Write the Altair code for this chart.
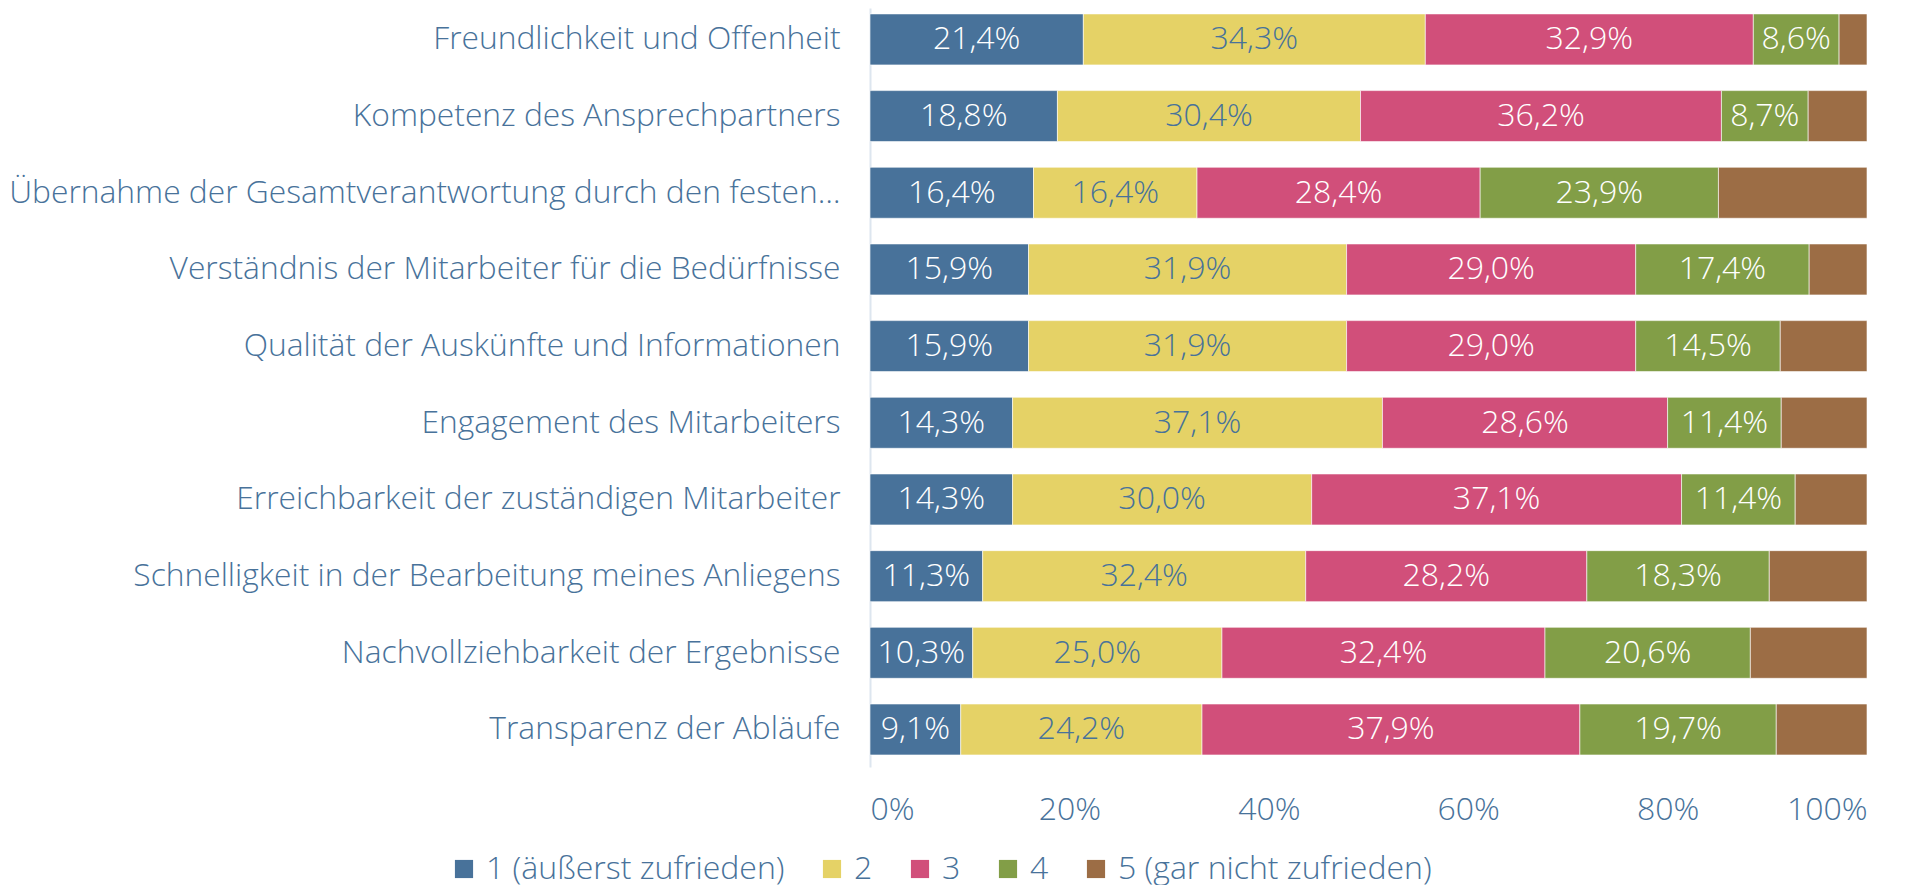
import altair as alt
import pandas as pd

items = [
    "Freundlichkeit und Offenheit",
    "Kompetenz des Ansprechpartners",
    "Übernahme der Gesamtverantwortung durch den festen…",
    "Verständnis der Mitarbeiter für die Bedürfnisse",
    "Qualität der Auskünfte und Informationen",
    "Engagement des Mitarbeiters",
    "Erreichbarkeit der zuständigen Mitarbeiter",
    "Schnelligkeit in der Bearbeitung meines Anliegens",
    "Nachvollziehbarkeit der Ergebnisse",
    "Transparenz der Abläufe",
]
categories = ["1 (äußerst zufrieden)", "2", "3", "4", "5 (gar nicht zufrieden)"]
v1 = [21.4, 18.8, 16.4, 15.9, 15.9, 14.3, 14.3, 11.3, 10.3, 9.1]
v2 = [34.3, 30.4, 16.4, 31.9, 31.9, 37.1, 30.0, 32.4, 25.0, 24.2]
v3 = [32.9, 36.2, 28.4, 29.0, 29.0, 28.6, 37.1, 28.2, 32.4, 37.9]
v4 = [8.6, 8.7, 23.9, 17.4, 14.5, 11.4, 11.4, 18.3, 20.6, 19.7]
v5 = [2.8, 5.9, 14.9, 5.8, 8.7, 8.6, 7.2, 9.8, 11.7, 9.1]
series = [v1, v2, v3, v4, v5]
x_ticks = [0, 20, 40, 60, 80, 100]

colors = ["#48729A", "#E5D266", "#D14F7A", "#829E47", "#9C6D45"]
text_blue = "#48729A"
FONT = "Open Sans"

rows = []
for ci, (cat, vals) in enumerate(zip(categories, series)):
    for item, v in zip(items, vals):
        label = (f"{v:.1f}".replace(".", ",") + "%") if ci < 4 else ""
        rows.append({"item": item, "cat": cat, "value": v, "order": ci, "label": label})
df = pd.DataFrame(rows)

yscale = alt.Scale(paddingInner=0.335, paddingOuter=0.117, align=0.33)

base = alt.Chart(df)

bars = base.mark_bar(stroke="white", strokeWidth=0.6).encode(
    y=alt.Y(
        "item:N",
        sort=items,
        scale=yscale,
        axis=alt.Axis(
            title=None, ticks=False, labelPadding=30, labelFontSize=31.75,
            labelColor=text_blue, labelFont=FONT, labelFontWeight=300,
            domainColor="#dde6ef", domainWidth=2, labelLimit=850,
            grid=False,
        ),
    ),
    x=alt.X(
        "value:Q",
        stack="zero",
        scale=alt.Scale(domain=[0, 100], nice=False),
        axis=alt.Axis(
            title=None, values=x_ticks, labelExpr="datum.value + '%'",
            ticks=False, domain=False, grid=False, labelPadding=27,
            labelFontSize=32, labelColor=text_blue, labelFont=FONT,
            labelFontWeight=300,
        ),
    ),
    color=alt.Color(
        "cat:N",
        scale=alt.Scale(domain=categories, range=colors),
        legend=alt.Legend(
            title=None, orient="none", legendX=-422, legendY=845,
            padding=0, direction="horizontal", symbolType="square",
            symbolSize=330, symbolStrokeWidth=0, labelFontSize=32,
            labelColor=text_blue, labelFont=FONT, labelFontWeight=300,
            columnPadding=31, labelOffset=6, labelLimit=600,
        ),
    ),
    order=alt.Order("order:Q"),
)

text = base.transform_stack(
    stack="value", groupby=["item"], as_=["x0", "x1"],
    sort=[alt.SortField("order", order="ascending")],
).transform_calculate(
    mid="(datum.x0 + datum.x1) / 2"
).mark_text(fontSize=32, font=FONT, fontWeight=300, baseline="middle").encode(
    y=alt.Y("item:N", sort=items, scale=yscale),
    x=alt.X("mid:Q"),
    text="label:N",
    color=alt.condition(alt.datum.order == 1, alt.value(text_blue), alt.value("white")),
)

chart = alt.layer(bars, text).properties(
    width=997, height=759, padding=0, background="white"
).configure_view(stroke=None)

chart.save("out.html", embed_options={"renderer": "svg", "actions": False})
